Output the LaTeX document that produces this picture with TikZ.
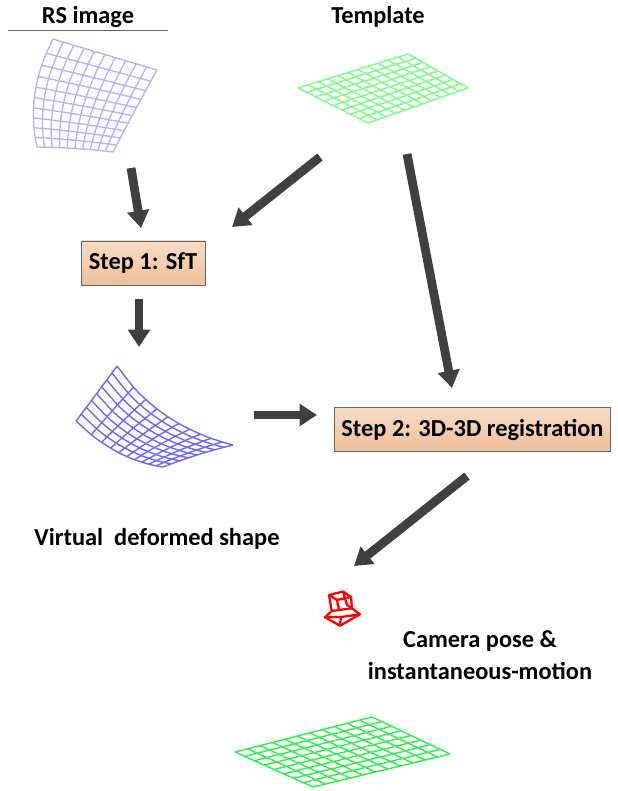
\documentclass[tikz,border=0pt]{standalone}
\usepackage{fontspec}
\setmainfont{Carlito}
\usetikzlibrary{arrows.meta}
\definecolor{boxtop}{HTML}{F8DCC6}
\definecolor{boxbot}{HTML}{EFBF9B}
\definecolor{arrowgrey}{HTML}{404040}
\tikzset{
  flowarrow/.style={draw=arrowgrey,line width=6.6pt,-{Triangle[length=13pt,width=16pt]}},
  stepbox/.style={draw=black!60,line width=0.7pt,top color=boxtop,bottom color=boxbot,inner sep=0pt,font=\fontsize{18.3}{22}\selectfont\bfseries},
  label/.style={inner sep=0pt,font=\fontsize{18.3}{22}\selectfont\bfseries,align=center},
  rsmesh/.style={draw={rgb,255:red,178;green,178;blue,255},line width=1pt},
  deformmesh/.style={draw={rgb,255:red,105;green,105;blue,255},line width=1.05pt},
  tmplmesh/.style={draw={rgb,255:red,130;green,252;blue,140},line width=1.15pt},
  resultmesh/.style={draw={rgb,255:red,50;green,240;blue,80},line width=1.1pt},
  cam/.style={draw=red,line width=1.7pt,line join=round},
  declare function={
    wu(\u)=\u^\Pu; wv(\v)=\v^\Pv;
    mx(\u,\v)=(1-wu(\u))*(1-wv(\v))*\Ax+wu(\u)*(1-wv(\v))*\Bx+wu(\u)*wv(\v)*\Cx+(1-wu(\u))*wv(\v)*\Dx
      +4*wv(\v)*(1-wv(\v))*((1-wu(\u))*\Lx+wu(\u)*\Rx)+4*wu(\u)*(1-wu(\u))*((1-wv(\v))*\Tx+wv(\v)*\Sx);
    my(\u,\v)=(1-wu(\u))*(1-wv(\v))*\Ay+wu(\u)*(1-wv(\v))*\By+wu(\u)*wv(\v)*\Cy+(1-wu(\u))*wv(\v)*\Dy
      +4*wv(\v)*(1-wv(\v))*((1-wu(\u))*\Ly+wu(\u)*\Ry)+4*wu(\u)*(1-wu(\u))*((1-wv(\v))*\Ty+wv(\v)*\Sy);
  }
}
% corners A,B,C,D
\newcommand\meshcorners[8]{\def\Ax{#1}\def\Ay{#2}\def\Bx{#3}\def\By{#4}\def\Cx{#5}\def\Cy{#6}\def\Dx{#7}\def\Dy{#8}}
% edge bulges: A-D side, B-C side, A-B side, D-C side
\newcommand\meshbulge[8]{\def\Lx{#1}\def\Ly{#2}\def\Rx{#3}\def\Ry{#4}\def\Tx{#5}\def\Ty{#6}\def\Sx{#7}\def\Sy{#8}}
% style, cells along u, cells along v, warp u, warp v
\newcommand\drawmesh[5]{%
  \def\Pu{#4}\def\Pv{#5}%
  \foreach \i in {0,...,#2}{
    \pgfmathsetmacro\uu{max(\i/#2,0.0001)}
    \draw[#1,smooth] plot[variable=\t,domain=0.0001:1,samples=11] ({mx(\uu,\t)},{my(\uu,\t)});
  }
  \foreach \j in {0,...,#3}{
    \pgfmathsetmacro\vv{max(\j/#3,0.0001)}
    \draw[#1,smooth] plot[variable=\t,domain=0.0001:1,samples=11] ({mx(\t,\vv)},{my(\t,\vv)});
  }
}
\begin{document}
\begin{tikzpicture}[x=0.75pt,y=-0.75pt]
\useasboundingbox (0,0) rectangle (617,791);

% titles
\node[label] (rstitle) at (88,17) {RS image};
\node[label] (tmpltitle) at (378,17) {Template};
\coordinate (ruleL) at (8,30);
\coordinate (ruleR) at (168,30);
\draw[draw=black!60,line width=0.6pt] (ruleL) -- (ruleR);

% meshes
\meshcorners{53}{39}{157}{70}{113}{152}{37}{147}
\meshbulge{-10}{0}{-1}{1}{0}{0}{0}{-1}
\drawmesh{rsmesh}{10}{10}{1}{0.88}

\meshcorners{408}{54}{468}{88}{368}{123}{298}{88}
\meshbulge{0}{0}{0}{0}{0}{0}{0}{0}
\drawmesh{tmplmesh}{8}{11}{1}{1}

\meshcorners{117}{366}{233}{445}{163}{467}{76}{421}
\meshbulge{0}{0}{-1}{-1}{-9}{10}{-2}{8}
\drawmesh{deformmesh}{10}{8}{0.72}{1}

\meshcorners{372}{717}{450}{754}{313}{787}{235}{752}
\meshbulge{0}{0}{0}{0}{0}{0}{0}{0}
\drawmesh{resultmesh}{8}{11}{1}{1}

% camera
\draw[cam] (329,595) -- (343,591.5) -- (351,597) -- (337,600) -- cycle;
\draw[cam] (329,595) -- (331.7,611) -- (339,610) -- (337,600);
\draw[cam] (339,610) -- (352,608.3) -- (351,597);
\draw[cam] (343,591.5) -- (347,605) -- (352,608.3);
\draw[cam] (325,617.3) -- (331.7,611);
\draw[cam] (352,608.3) -- (360,614.3);
\draw[cam] (325,617.3) -- (340,625.7) -- (360,614.3) -- (341,617) -- cycle;
\draw[cam] (341,617) -- (340,625.7);

% boxes
\node[stepbox,minimum width=93pt,minimum height=33pt] (step1) at (143,263) {\raisebox{-0.75pt}{Step 1: SfT}};
\node[stepbox,minimum width=207.5pt,minimum height=32.5pt] (step2) at (472.5,429.5) {\raisebox{-0.75pt}{Step 2: 3D-3D registration}};

% labels
\node[label] (virtual) at (157,539) {Virtual\ \ deformed shape};
\node[label] (campose) at (480,655) {Camera pose \&\\[2pt]instantaneous-motion};

% arrow ends
\coordinate (a1s) at (131,168);
\coordinate (a1e) at (141,228);
\coordinate (a2s) at (320,157);
\coordinate (a2e) at (232,227);
\coordinate (a3s) at (407,154);
\coordinate (a3e) at (452,388);
\coordinate (a4s) at (139,299);
\coordinate (a4e) at (139,347);
\coordinate (a5s) at (254,415);
\coordinate (a5e) at (317,415);
\coordinate (a6s) at (467,476);
\coordinate (a6e) at (354,566);
\draw[flowarrow] (a1s) -- (a1e);
\draw[flowarrow] (a2s) -- (a2e);
\draw[flowarrow] (a3s) -- (a3e);
\draw[flowarrow] (a4s) -- (a4e);
\draw[flowarrow] (a5s) -- (a5e);
\draw[flowarrow] (a6s) -- (a6e);
\end{tikzpicture}
\end{document}
